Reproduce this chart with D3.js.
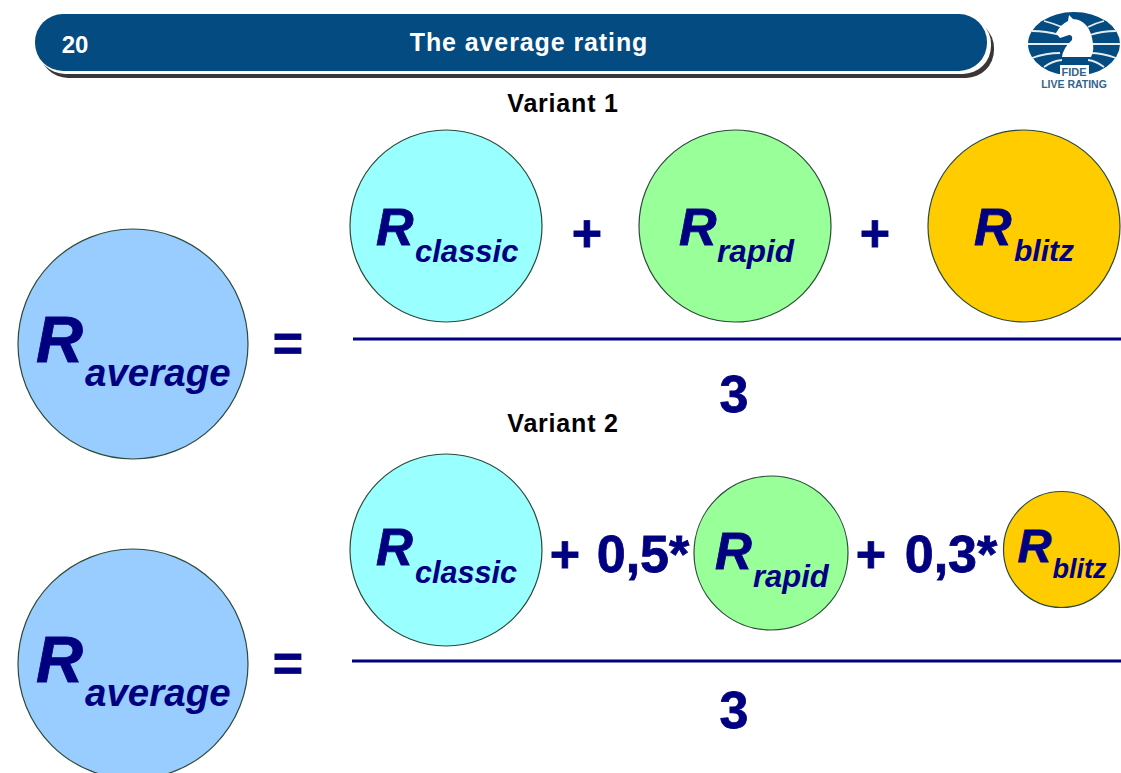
<!DOCTYPE html>
<html>
<head>
<meta charset="utf-8">
<script src="https://cdn.jsdelivr.net/npm/d3@7"></script>
<style>
  html,body{margin:0;padding:0;background:#fff;overflow:hidden}
  text{font-family:"Liberation Sans",Arial,sans-serif;font-weight:bold}
  .formula{stroke:#000080;stroke-width:.8px}
</style>
</head>
<body>
<svg id="slide" width="1121" height="773"></svg>
<script>
const slideNumber = "20";
const slideTitle = "The average rating";
const variantLabels = ["Variant 1", "Variant 2"];
const ratingNames = ["classic", "rapid", "blitz"];
const ratingColors = ["#99ffff", "#99ff99", "#ffcc00"];
const variant1Sizes = [96, 96, 96];
const variant2Sizes = [96, 77, 58];
const variant2Weights = ["", "0,5*", "0,3*"];
const divisor = "3";

const navy = "#000080", bannerBlue = "#034b80";
const svg = d3.select("#slide");

// header banner
svg.append("rect").attr("x", 40).attr("y", 20).attr("width", 954).attr("height", 58).attr("rx", 28).attr("fill", "#3a3536");
svg.append("rect").attr("x", 37).attr("y", 16).attr("width", 954).attr("height", 58).attr("rx", 28).attr("fill", "#fff");
svg.append("rect").attr("x", 35).attr("y", 14).attr("width", 952).attr("height", 57).attr("rx", 28).attr("fill", bannerBlue);
svg.append("text").attr("x", 75).attr("y", 53).attr("text-anchor", "middle").attr("font-size", 24).attr("fill", "#fff").text(slideNumber);
svg.append("text").attr("x", 529).attr("y", 51).attr("text-anchor", "middle").attr("font-size", 25).attr("letter-spacing", 0.9).attr("fill", "#fff").text(slideTitle);

// logo
const logo = svg.append("g");
logo.append("ellipse").attr("cx", 1074).attr("cy", 44).attr("rx", 46).attr("ry", 32).attr("fill", bannerBlue);
const stripes = [
  "M1044 21 Q1052 23 1062 27", "M1032 31 Q1046 31 1060 35", "M1028 44 L1120 44",
  "M1032 58 Q1046 53 1060 53", "M1044 67 Q1052 61 1062 60",
  "M1088 27 Q1096 23 1104 21", "M1090 35 Q1102 31 1116 31",
  "M1090 53 Q1102 53 1116 58", "M1088 60 Q1096 61 1104 67"
];
logo.selectAll("path.stripe").data(stripes).join("path").attr("class", "stripe")
  .attr("d", d => d).attr("fill", "none").attr("stroke", "#e4ecf2").attr("stroke-width", 1.8);
logo.append("path").attr("fill", "#fff")
  .attr("d", "M1069 15 L1073 19 Q1088 20 1092 38 Q1095 50 1091 57 L1062 57 Q1063 48 1072 40 Q1073 35 1069 35 L1060 38 L1056 33 Q1061 24 1068 21 Z");
logo.append("rect").attr("x", 1060).attr("y", 65).attr("width", 29).attr("height", 13).attr("fill", "#fff");
logo.append("text").attr("x", 1074).attr("y", 76).attr("text-anchor", "middle").attr("font-size", 11).attr("fill", "#33648c").text("FIDE");
logo.append("text").attr("x", 1074).attr("y", 88).attr("text-anchor", "middle").attr("font-size", 10.5).attr("fill", "#33648c").text("LIVE RATING");

// R with a subscript inside a circle
function bubble(cx, cy, r, fill, sub, rSize, subSize, rX, rY, subX, subY) {
  const g = svg.append("g").attr("transform", `translate(${cx},${cy})`);
  g.append("circle").attr("r", r).attr("fill", fill).attr("stroke", "#2d4a3a").attr("stroke-width", 1.2);
  g.append("text").attr("class", "formula").attr("x", rX).attr("y", rY).attr("font-size", rSize).attr("font-style", "italic").attr("fill", navy).text("R");
  g.append("text").attr("x", subX).attr("y", subY).attr("font-size", subSize).attr("font-style", "italic").attr("fill", navy).text(sub);
}

function symbol(x, y, size, txt) {
  return svg.append("text").attr("class", "formula").attr("x", x).attr("y", y).attr("text-anchor", "middle").attr("font-size", size).attr("fill", navy).text(txt);
}

// variant 1
svg.append("text").attr("x", 563).attr("y", 112).attr("text-anchor", "middle").attr("font-size", 25).attr("letter-spacing", 0.8).attr("fill", "#000").text(variantLabels[0]);
bubble(133, 344, 115, "#99ccff", "average", 65, 38.5, -97, 18, -48, 42);
symbol(288, 361, 52, "=");
const v1x = [446, 735, 1024], v1sub = [[-70, 19, -31, 36], [-56, 19, -18, 36], [-50, 19, -10, 35]];
const v1s = [31, 31.5, 30];
ratingNames.forEach((n, i) => {
  const o = v1sub[i];
  bubble(v1x[i], 226, variant1Sizes[i], ratingColors[i], n, 52, v1s[i], o[0], o[1], o[2], o[3]);
});
symbol(587, 251, 52, "+");
symbol(875, 251, 52, "+");
svg.append("line").attr("x1", 353).attr("x2", 1121).attr("y1", 339).attr("y2", 339).attr("stroke", navy).attr("stroke-width", 3);
symbol(734, 412, 52, divisor);

// variant 2
svg.append("text").attr("x", 563).attr("y", 432).attr("text-anchor", "middle").attr("font-size", 25).attr("letter-spacing", 0.8).attr("fill", "#000").text(variantLabels[1]);
bubble(133, 664, 115, "#99ccff", "average", 65, 38.5, -97, 18, -48, 42);
symbol(288, 681, 52, "=");
const v2x = [446, 771, 1061.5], v2y = [550, 553, 549.5], v2sub = [[-70, 15, -31, 33], [-56, 16, -18, 34], [-44, 12.5, -9, 28.5]];
const v2r = [51, 51, 47], v2s = [30.6, 31, 27];
ratingNames.forEach((n, i) => {
  const o = v2sub[i];
  bubble(v2x[i], v2y[i], variant2Sizes[i], ratingColors[i], n, v2r[i], v2s[i], o[0], o[1], o[2], o[3]);
});
symbol(565, 572, 52, "+");
symbol(643, 572, 52, variant2Weights[1]);
symbol(871, 572, 52, "+");
symbol(951, 572, 52, variant2Weights[2]);
svg.append("line").attr("x1", 352).attr("x2", 1121).attr("y1", 661).attr("y2", 661).attr("stroke", navy).attr("stroke-width", 3);
symbol(734, 728, 52, divisor);
</script>
</body>
</html>
